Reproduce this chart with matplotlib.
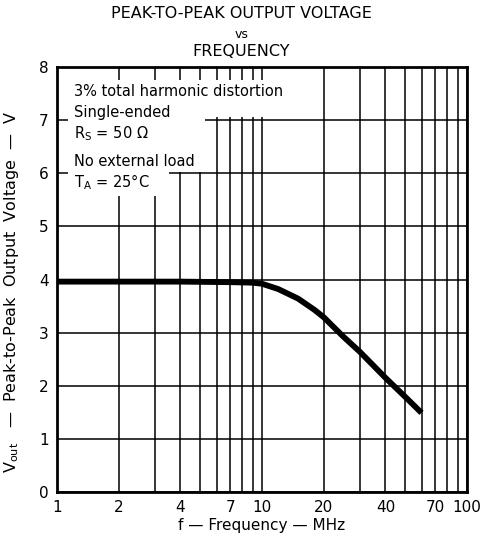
import numpy as np
import matplotlib.pyplot as plt
from matplotlib.patches import Rectangle
from matplotlib.ticker import FixedLocator, NullFormatter

# values
freq = [1, 2, 4, 7, 9, 10, 12, 15, 18, 20, 25, 30, 40, 50, 60]
vout = [3.96, 3.96, 3.96, 3.95, 3.94, 3.92, 3.82, 3.64, 3.43, 3.29, 2.92, 2.64, 2.15, 1.79, 1.49]

xticks = [1, 2, 4, 7, 10, 20, 40, 70, 100]
xticklabels = ['1', '2', '4', '7', '10', '20', '40', '70', '100']
grid_x = [1, 2, 3, 4, 5, 6, 7, 8, 9, 10, 20, 30, 40, 50, 60, 70, 80, 90, 100]
yticks = [0, 1, 2, 3, 4, 5, 6, 7, 8]

plt.rcParams['font.family'] = ['DejaVu Sans']

fig = plt.figure(figsize=(4.83, 5.43), dpi=100)
ax = fig.add_axes([57 / 483, 1 - 492 / 543, 410 / 483, 425 / 543])

ax.set_xscale('log')
ax.set_xlim(1, 100)
ax.set_ylim(0, 8)

for gx in grid_x:
    ax.axvline(gx, color='black', lw=1.1, zorder=1)
for gy in yticks:
    ax.axhline(gy, color='black', lw=1.1, zorder=1)

# blank area behind the notes (grid interrupted there)
blank = [(1.13, 5.58, 3.5, 7.76), (3.5, 6.03, 5.3, 7.76), (5.3, 7.05, 10.3, 7.76)]
for x0, y0, x1, y1 in blank:
    ax.add_patch(Rectangle((x0, y0), x1 - x0, y1 - y0, facecolor='white',
                           edgecolor='none', zorder=2))

ax.plot(freq, vout, color='black', lw=4.2, solid_capstyle='butt', zorder=3)

ax.xaxis.set_major_locator(FixedLocator(xticks))
ax.xaxis.set_minor_locator(FixedLocator([]))
ax.xaxis.set_minor_formatter(NullFormatter())
ax.set_xticklabels(xticklabels)
ax.set_yticks(yticks)
ax.tick_params(length=0, labelsize=11, pad=6)

for s in ax.spines.values():
    s.set_linewidth(2)
    s.set_zorder(4)

ax.set_xlabel('f — Frequency — MHz', fontsize=11, labelpad=2)
ax.set_ylabel(r'V$_{\rm out}$   —  Peak-to-Peak  Output  Voltage  —  V', fontsize=11.5)
ax.yaxis.set_label_coords(-0.088, 0.47)

fig.text(0.5, 1 - 14 / 543, 'PEAK-TO-PEAK OUTPUT VOLTAGE', ha='center', va='center', fontsize=11.5)
fig.text(0.5, 1 - 35 / 543, 'vs', ha='center', va='center', fontsize=9)
fig.text(0.5, 1 - 51 / 543, 'FREQUENCY', ha='center', va='center', fontsize=11.5)

notes = [('3% total harmonic distortion', 92),
         ('Single-ended', 113),
         (r'R$_{\rm S}$ = 50 $\Omega$', 134),
         ('No external load', 161),
         (r'T$_{\rm A}$ = 25°C', 182)]
for txt, py in notes:
    fig.text(74 / 483, 1 - py / 543, txt, ha='left', va='center', fontsize=10.5, zorder=5,
             bbox=dict(facecolor='white', edgecolor='none', pad=1.5))

fig.savefig('out.png', dpi=100)
